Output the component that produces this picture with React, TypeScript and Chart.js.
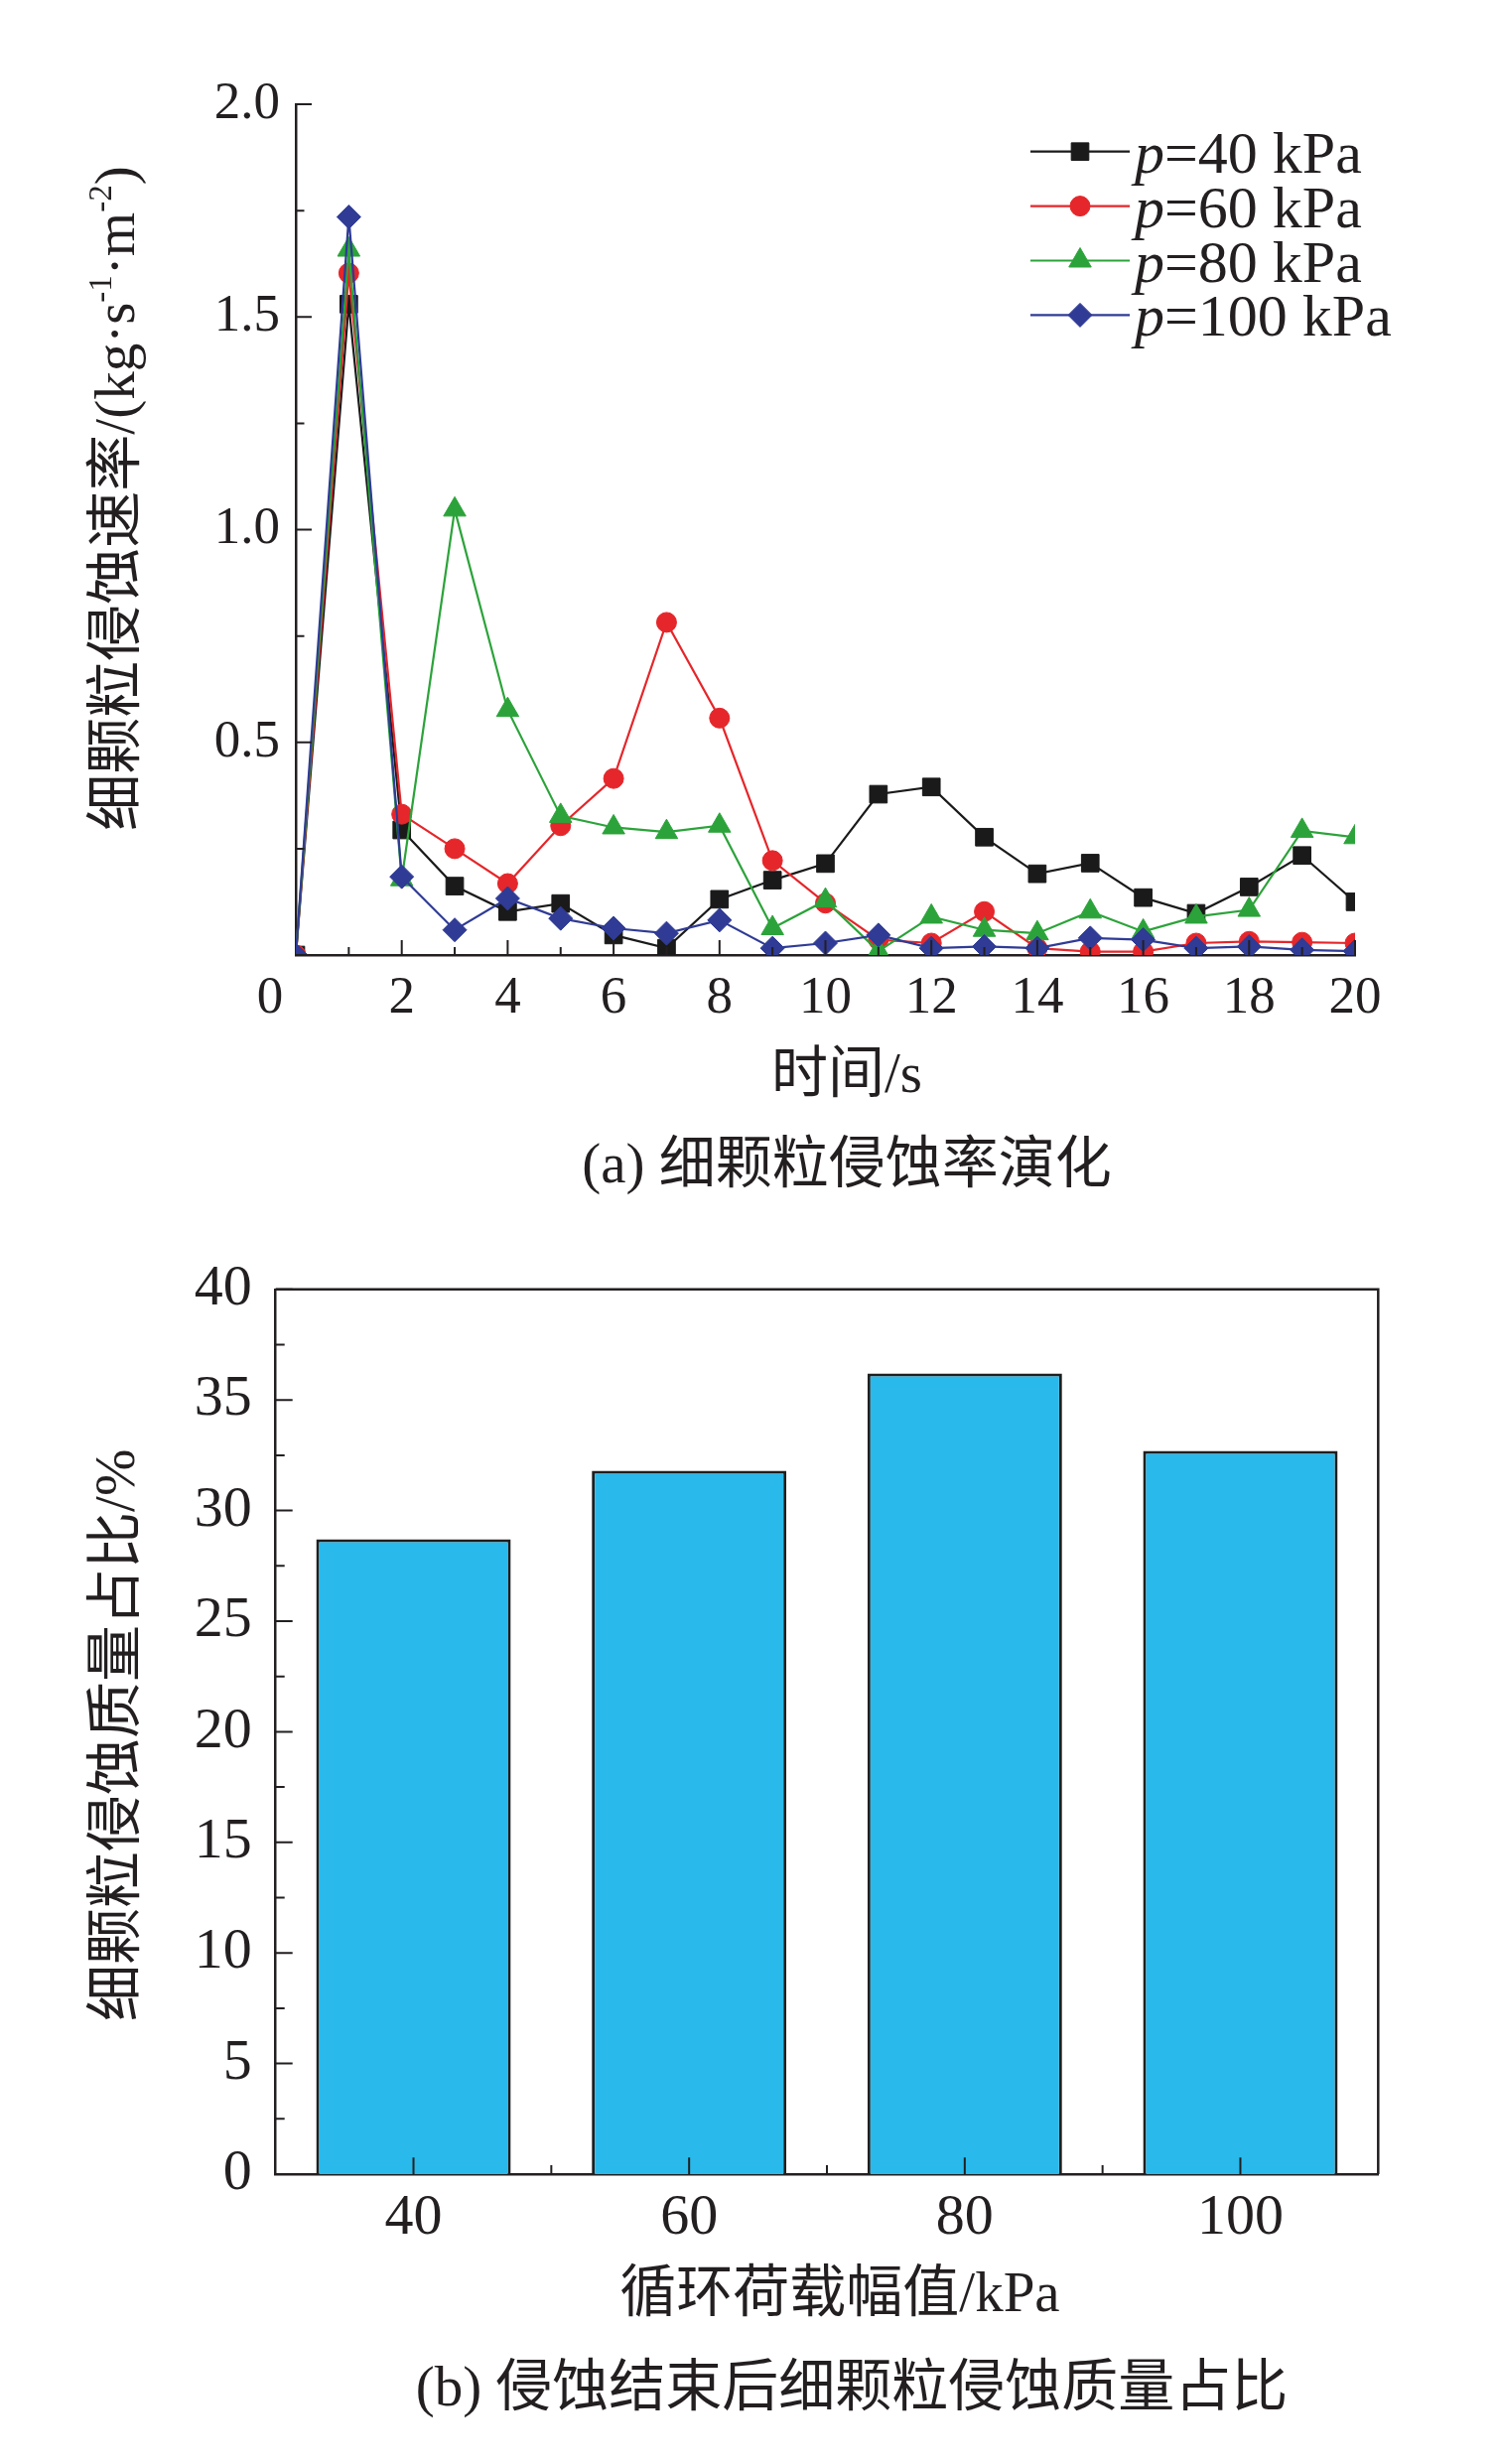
import { useEffect, useRef } from "react";
import { Chart, registerables } from "chart.js";
import { drawPoint } from "chart.js/helpers";
Chart.register(...registerables);

const FONT = '"Liberation Serif", "Noto Sans CJK SC", serif';
const INK = "#231f20";

// (a) erosion rate of fine particles, kg·s-1·m-2, one value per second
const times = [0, 1, 2, 3, 4, 5, 6, 7, 8, 9, 10, 11, 12, 13, 14, 15, 16, 17, 18, 19, 20];
const rate40 = [0, 1.53, 0.294, 0.162, 0.102, 0.121, 0.047, 0.016, 0.131, 0.176, 0.215, 0.378, 0.395, 0.277, 0.191, 0.216, 0.135, 0.098, 0.16, 0.234, 0.125];
const rate60 = [0, 1.603, 0.331, 0.25, 0.168, 0.304, 0.415, 0.782, 0.557, 0.222, 0.122, 0.036, 0.028, 0.102, 0.016, 0.008, 0.008, 0.028, 0.032, 0.03, 0.028];
const rate80 = [0, 1.658, 0.178, 1.047, 0.576, 0.327, 0.3, 0.289, 0.304, 0.063, 0.128, 0.009, 0.09, 0.059, 0.051, 0.102, 0.055, 0.09, 0.106, 0.292, 0.277];
const rate100 = [0, 1.735, 0.184, 0.059, 0.133, 0.086, 0.063, 0.051, 0.082, 0.016, 0.028, 0.047, 0.016, 0.02, 0.016, 0.04, 0.036, 0.016, 0.02, 0.012, 0.009];
const pressures = ["40", "60", "80", "100"];

// (b) share of eroded fine-particle mass after erosion, %
const loads = ["40", "60", "80", "100"];
const massShare = [28.7, 31.8, 36.2, 32.7];

const seriesColors = ["#1a1a1a", "#e5262a", "#2ca33a", "#2f3b95"];
const markerStyles = ["rect", "circle", "triangle", "rectRot"];
const markerRadii = [12.5, 10, 13, 12];

const font = (size: number, italic = false) => `${italic ? "italic " : ""}${size}px ${FONT}`;

function centerText(ctx: CanvasRenderingContext2D, text: string, x: number, y: number, size: number) {
  ctx.font = font(size);
  ctx.textAlign = "center";
  ctx.textBaseline = "middle";
  ctx.fillText(text, x, y);
}

// rotated title made of pieces, some of them superscripts
function verticalTitle(
  ctx: CanvasRenderingContext2D,
  parts: { t: string; sup?: boolean }[],
  cx: number,
  cy: number,
  size: number
) {
  ctx.save();
  ctx.translate(cx, cy);
  ctx.rotate(-Math.PI / 2);
  ctx.textBaseline = "middle";
  ctx.textAlign = "left";
  const sizes = parts.map((p) => (p.sup ? size * 0.58 : size));
  let total = 0;
  parts.forEach((p, i) => {
    ctx.font = font(sizes[i]);
    total += ctx.measureText(p.t).width;
  });
  let x = -total / 2;
  parts.forEach((p, i) => {
    ctx.font = font(sizes[i]);
    ctx.fillText(p.t, x, p.sup ? -size * 0.3 : 0);
    x += ctx.measureText(p.t).width;
  });
  ctx.restore();
}

const rateDecor = {
  id: "rateDecor",
  afterDatasetsDraw(chart: any) {
    const { ctx, chartArea: a } = chart;
    const xs = chart.scales.x;
    const ys = chart.scales.y;
    ctx.save();
    ctx.strokeStyle = INK;
    ctx.lineWidth = 2;
    ctx.beginPath();
    for (let i = 0; i <= 8; i++) {
      const py = ys.getPixelForValue(i * 0.25);
      ctx.moveTo(a.left, py);
      ctx.lineTo(a.left + (i % 2 === 0 ? 16 : 8.5), py);
    }
    for (let t = 1; t <= 20; t++) {
      const px = xs.getPixelForValue(t);
      ctx.moveTo(px, a.bottom);
      ctx.lineTo(px, a.bottom - (t % 2 === 0 ? 15 : 8));
    }
    ctx.stroke();
    ctx.restore();
  },
  afterDraw(chart: any) {
    const { ctx, chartArea: a } = chart;
    const xs = chart.scales.x;
    ctx.save();
    ctx.fillStyle = INK;
    // origin label sits left of the axis
    centerText(ctx, "0", xs.getPixelForValue(0) - 26, a.bottom + 44, 53);
    verticalTitle(
      ctx,
      [{ t: "细颗粒侵蚀速率/(kg·s" }, { t: "-1", sup: true }, { t: "·m" }, { t: "-2", sup: true }, { t: ")" }],
      a.left - 177.5,
      a.top + 397,
      57
    );
    centerText(ctx, "时间/s", a.left + 555, a.bottom + 123, 57);
    centerText(ctx, "(a) 细颗粒侵蚀率演化", a.left + 555, a.bottom + 214, 57);

    // legend: line with marker, italic p
    chart.data.datasets.forEach((ds: any, i: number) => {
      const y = a.top + 47.7 + i * 54.9;
      const color = ds.borderColor;
      ctx.strokeStyle = color;
      ctx.fillStyle = color;
      ctx.lineWidth = 2.2;
      ctx.beginPath();
      ctx.moveTo(a.right - 327, y);
      ctx.lineTo(a.right - 227, y);
      ctx.stroke();
      ctx.lineWidth = 1;
      drawPoint(ctx, { pointStyle: ds.pointStyle, radius: ds.pointRadius, rotation: 0, borderWidth: 1 }, a.right - 277, y);
      ctx.fillStyle = INK;
      ctx.textAlign = "left";
      ctx.textBaseline = "alphabetic";
      let tx = a.right - 222;
      ctx.font = font(60, true);
      ctx.fillText("p", tx, y + 21);
      tx += ctx.measureText("p").width;
      ctx.font = font(60);
      ctx.fillText(`=${pressures[i]} kPa`, tx, y + 21);
    });
    ctx.restore();
  },
};

const massDecor = {
  id: "massDecor",
  afterDatasetsDraw(chart: any) {
    const { ctx, chartArea: a } = chart;
    const xs = chart.scales.x;
    const ys = chart.scales.y;
    ctx.save();
    ctx.strokeStyle = INK;
    ctx.lineWidth = 2;
    ctx.beginPath();
    for (let i = 0; i <= 16; i++) {
      const py = ys.getPixelForValue(i * 2.5);
      ctx.moveTo(a.left, py);
      ctx.lineTo(a.left + (i % 2 === 0 ? 17 : 9), py);
    }
    loads.forEach((_, i) => {
      const px = xs.getPixelForValue(i);
      ctx.moveTo(px, a.bottom);
      ctx.lineTo(px, a.bottom - 16.7);
      if (i > 0) {
        const pb = (xs.getPixelForValue(i - 1) + px) / 2;
        ctx.moveTo(pb, a.bottom);
        ctx.lineTo(pb, a.bottom - 9);
      }
    });
    ctx.stroke();
    // frame top and right
    ctx.lineWidth = 2.5;
    ctx.beginPath();
    ctx.moveTo(a.left, a.top);
    ctx.lineTo(a.right, a.top);
    ctx.lineTo(a.right, a.bottom);
    ctx.stroke();
    ctx.restore();
  },
  afterDraw(chart: any) {
    const { ctx, chartArea: a } = chart;
    ctx.save();
    ctx.fillStyle = INK;
    verticalTitle(ctx, [{ t: "细颗粒侵蚀质量占比/%" }], a.left - 157.2, a.top + 449, 57);
    centerText(ctx, "循环荷载幅值/kPa", a.left + 568.3, a.bottom + 123, 57);
    centerText(ctx, "(b) 侵蚀结束后细颗粒侵蚀质量占比", a.left + 580.3, a.bottom + 218, 57);
    ctx.restore();
  },
};

Chart.defaults.font.family = FONT;
Chart.defaults.color = INK;

function RateChart() {
  const chartRef = useRef<HTMLCanvasElement | null>(null);

  useEffect(() => {
    if (!chartRef.current) return;
    const series = [rate40, rate60, rate80, rate100];
    const chart = new Chart(chartRef.current, {
      type: "line",
      data: {
        datasets: series.map((values, i) => ({
          label: `p=${pressures[i]} kPa`,
          data: times.map((t, k) => ({ x: t, y: values[k] })),
          borderColor: seriesColors[i],
          backgroundColor: seriesColors[i],
          borderWidth: 2.2,
          pointStyle: markerStyles[i],
          pointRadius: markerRadii[i],
          pointBorderWidth: 1,
          pointHoverRadius: markerRadii[i],
          tension: 0,
          order: 3 - i,
        })),
      },
      options: {
        animation: false,
        responsive: true,
        maintainAspectRatio: false,
        layout: { padding: { top: 105, right: 144, left: 0, bottom: 0 } },
        plugins: { legend: { display: false }, tooltip: { enabled: false } },
        scales: {
          x: {
            type: "linear",
            min: 0,
            max: 20,
            grid: { display: false, drawTicks: false },
            border: { color: INK, width: 2.5 },
            ticks: {
              stepSize: 2,
              autoSkip: false,
              maxRotation: 0,
              padding: 12,
              font: { size: 53 },
              callback: (v: any) => (v === 0 ? "" : String(v)),
            },
            afterFit: (s: any) => {
              s.height = 278;
            },
          },
          y: {
            min: 0,
            max: 2,
            grid: { display: false, drawTicks: false },
            border: { color: INK, width: 2.5 },
            ticks: {
              stepSize: 0.5,
              padding: 16,
              font: { size: 53 },
              callback: (v: any) => (v === 0 ? "" : Number(v).toFixed(1)),
            },
            afterFit: (s: any) => {
              s.width = 298;
            },
          },
        },
      },
      plugins: [rateDecor],
    });
    return () => chart.destroy();
  }, []);

  return (
    <div style={{ position: "absolute", left: 0, top: 0, width: 1509, height: 1240 }}>
      <canvas ref={chartRef}></canvas>
    </div>
  );
}

function MassChart() {
  const chartRef = useRef<HTMLCanvasElement | null>(null);

  useEffect(() => {
    if (!chartRef.current) return;
    const chart = new Chart(chartRef.current, {
      type: "bar",
      data: {
        labels: loads,
        datasets: [
          {
            data: massShare,
            backgroundColor: "#29b9eb",
            borderColor: "#1f1f1f",
            borderWidth: 3,
            barPercentage: 0.706,
            categoryPercentage: 1,
          },
        ],
      },
      options: {
        animation: false,
        responsive: true,
        maintainAspectRatio: false,
        layout: { padding: { top: 55, right: 120.7, left: 0, bottom: 0 } },
        plugins: { legend: { display: false }, tooltip: { enabled: false } },
        scales: {
          x: {
            grid: { display: false, drawTicks: false },
            border: { color: INK, width: 2.5 },
            ticks: { padding: 10, font: { size: 58 }, maxRotation: 0 },
            afterFit: (s: any) => {
              s.height = 292;
            },
          },
          y: {
            min: 0,
            max: 40,
            grid: { display: false, drawTicks: false },
            border: { color: INK, width: 2.5 },
            ticks: { stepSize: 5, padding: 24, font: { size: 58 } },
            afterFit: (s: any) => {
              s.width = 277.7;
            },
          },
        },
      },
      plugins: [massDecor],
    });
    return () => chart.destroy();
  }, []);

  return (
    <div style={{ position: "absolute", left: 0, top: 1240, width: 1509, height: 1242 }}>
      <canvas ref={chartRef}></canvas>
    </div>
  );
}

export default function App() {
  return (
    <div style={{ position: "absolute", left: 0, top: 0, width: 1509, height: 2482, background: "#fff" }}>
      <RateChart />
      <MassChart />
    </div>
  );
}
